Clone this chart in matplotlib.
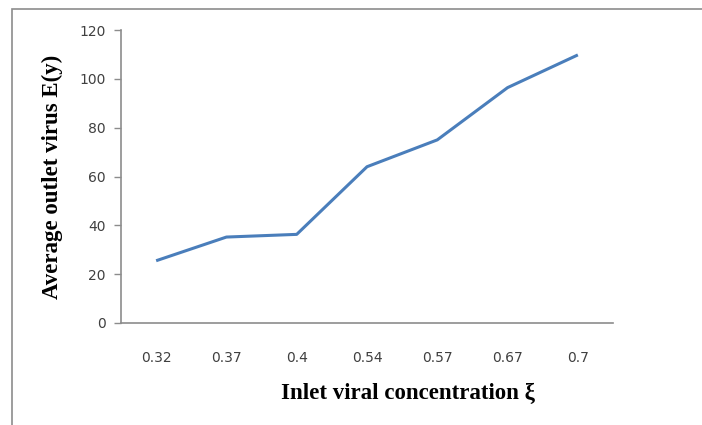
import matplotlib
matplotlib.use("Agg")
import matplotlib.pyplot as plt
from matplotlib.patches import Rectangle

categories = ["0.32", "0.37", "0.4", "0.54", "0.57", "0.67", "0.7"]
values = [25.5, 35.2, 36.3, 64.0, 75.0, 96.4, 109.8]
y_ticks = [0, 20, 40, 60, 80, 100, 120]

W, H = 702, 425
fig = plt.figure(figsize=(W / 100, H / 100), dpi=100)
fig.patch.set_facecolor("white")

# outer chart border (Excel chart area)
fig.patches.append(Rectangle((12 / W, -0.2), 1.2, (H - 9) / H + 0.2, transform=fig.transFigure,
                             fill=False, edgecolor="#8c8c8c", linewidth=1.2))

ax = fig.add_axes([121 / W, (H - 323) / H, (613 - 121) / W, (323 - 30) / H])
x = list(range(len(categories)))
ax.plot(x, values, color="#4A7EBB", linewidth=2.2, solid_capstyle="butt")
ax.set_xlim(-0.5, len(categories) - 0.5)
ax.set_ylim(0, 120)
ax.set_xticks(x)
ax.set_xticklabels(categories)
ax.set_yticks(y_ticks)

for s in ["top", "right"]:
    ax.spines[s].set_visible(False)
for s in ["left", "bottom"]:
    ax.spines[s].set_color("#8c8c8c")
    ax.spines[s].set_linewidth(1.2)

ax.tick_params(axis="y", direction="out", length=5, width=1, color="#8c8c8c",
               labelsize=10, labelcolor="#404040", pad=6)
ax.tick_params(axis="x", length=0, labelsize=10, labelcolor="#404040", pad=20)

fig.text(408 / W, 1 - 393 / H, "Inlet viral concentration ξ", ha="center", va="center",
         fontsize=16.5, fontweight="bold", family=["Liberation Serif", "DejaVu Serif"])
fig.text(52 / W, 1 - 177 / H, "Average outlet virus E(y)", ha="center", va="center",
         rotation=90, fontsize=16.5, fontweight="bold", family=["Liberation Serif", "DejaVu Serif"])

fig.savefig("out.png", dpi=100)
